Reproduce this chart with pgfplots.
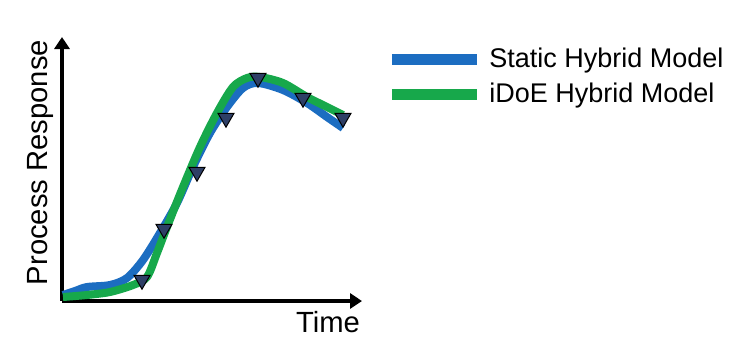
\documentclass[border=0pt]{standalone}
\usepackage{pgfplots}
\pgfplotsset{compat=1.18}
\usepackage{fontspec}
\setmainfont{Liberation Sans}
\usetikzlibrary{arrows.meta}
\definecolor{cblue}{HTML}{1C6DC1}
\definecolor{cgreen}{HTML}{17A84B}
\definecolor{cmark}{HTML}{2E3F66}
\begin{document}
\begin{tikzpicture}
\begin{axis}[
  x=0.5pt, y=0.5pt,
  xmin=62, xmax=362, ymin=54, ymax=318,
  axis lines=left,
  axis line style={line width=2.3pt, -{Triangle[length=6pt,width=7.5pt]}},
  ticks=none,
  clip=false,
  legend style={at={(axis cs:386,311)}, anchor=north west, draw=none, fill=none,
    font=\fontsize{13.5}{16}\selectfont, row sep=2.2pt, inner sep=0pt,
    /tikz/every odd column/.append style={column sep=1.5pt}},
  legend cell align=left,
  legend image code/.code={\draw[#1, line width=5.5pt, line cap=butt] (0pt,0pt) -- (42.5pt,0pt);},
]
\coordinate (bl) at (axis cs:0,0);
\coordinate (tr) at (axis cs:740,355);
\addplot[cblue, line width=4pt, smooth, tension=0.5] coordinates {
(63,60) (75,64) (87,68) (110,70) (127,77) (143,95) (160,122) (177,152) (193,188) (210,222) (227,248) (243,267) (258,272) (283,265) (307,252) (327,238) (343,227)
};
\addlegendentry{Static Hybrid Model}
\addplot[cgreen, line width=4pt, smooth, tension=0.5] coordinates {
(63,58) (87,60) (110,63) (133,70) (147,78) (157,102) (167,128) (183,168) (200,208) (217,242) (233,268) (247,277) (260,278) (283,272) (307,258) (327,248) (343,240)
};
\addlegendentry{iDoE Hybrid Model}
\addplot[only marks, mark=triangle*, mark options={rotate=180, fill=cmark, draw=black, line width=0.5pt}, mark size=4.6pt, forget plot] coordinates {
(142,75) (164,126) (197,183) (226,237) (258,277) (303,257) (343,237)
};
\node[rotate=90, font=\fontsize{14.6}{17}\selectfont] at (axis cs:40,192.5) {Process Response};
\node[font=\fontsize{14.6}{17}\selectfont] at (axis cs:328,33) {Time};
\end{axis}
\pgfresetboundingbox
\useasboundingbox (bl) rectangle (tr);
\end{tikzpicture}
\end{document}
